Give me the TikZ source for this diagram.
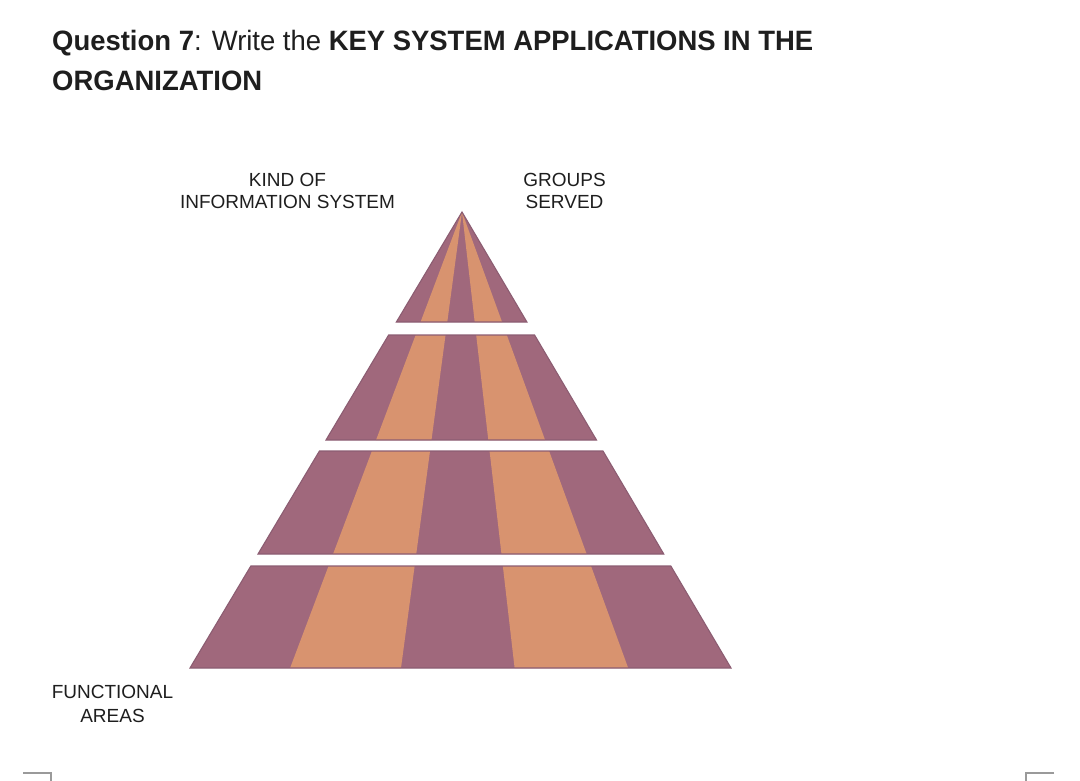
\documentclass[tikz,border=0pt]{standalone}
\usepackage{fontspec}
\setmainfont{Liberation Sans}
\definecolor{mauve}{HTML}{A0687C}
\definecolor{peach}{HTML}{D8936F}
\definecolor{edgec}{HTML}{8C5D72}
\definecolor{ink}{HTML}{1E1E1E}
\definecolor{markc}{HTML}{9A9A9A}
\begin{document}
\begin{tikzpicture}[x=1pt,y=-1pt,
  titletext/.style={inner sep=0pt,anchor=base west,text=ink,font=\fontsize{28}{34}\selectfont},
  label/.style={inner sep=0pt,anchor=base,text=ink,font=\fontsize{19}{22}\selectfont},
  tieredge/.style={draw=edgec,line width=1.1pt,line join=miter},
  cropmark/.style={draw=markc,line width=1.4pt}]
\useasboundingbox (0,0) rectangle (1080,781);
\fill[white] (0,0) rectangle (1080,781);

% title
\node[titletext] (t1) at (52,51) {\resizebox{761pt}{\height}{\textbf{Question 7}: Write the \textbf{KEY SYSTEM APPLICATIONS IN THE}}};
\node[titletext] (t2) at (52,91) {\resizebox{210pt}{\height}{\textbf{ORGANIZATION}}};

% pyramid
\coordinate (A) at (462,212);
\coordinate (BL) at (190,668);
\coordinate (BR) at (731,668);
\coordinate (S1) at (290.1,668);
\coordinate (S2) at (401.0,668);
\coordinate (S3) at (514.6,668);
\coordinate (S4) at (628.2,668);
\foreach \yt/\yb in {212/322,335/440,451/554,566/668}{
  \pgfmathsetmacro{\xlt}{462-0.59649*(\yt-212)}
  \pgfmathsetmacro{\xrt}{462+0.58991*(\yt-212)}
  \pgfmathsetmacro{\xlb}{462-0.59649*(\yb-212)}
  \pgfmathsetmacro{\xrb}{462+0.58991*(\yb-212)}
  \fill[mauve] (\xlt,\yt) -- (\xrt,\yt) -- (\xrb,\yb) -- (\xlb,\yb) -- cycle;
  \begin{scope}
    \clip (\xlt,\yt) -- (\xrt,\yt) -- (\xrb,\yb) -- (\xlb,\yb) -- cycle;
    \fill[peach] (A) -- (S1) -- (S2) -- cycle;
    \fill[peach] (A) -- (S3) -- (S4) -- cycle;
  \end{scope}
  \draw[tieredge] (\xlt,\yt) -- (\xrt,\yt) -- (\xrb,\yb) -- (\xlb,\yb) -- cycle;
}

% labels
\node[label] (k1) at (287.5,187) {KIND OF};
\node[label] (k2) at (287.5,209) {INFORMATION SYSTEM};
\node[label] (g1) at (564.5,186) {GROUPS};
\node[label] (g2) at (564.5,209) {SERVED};
\node[label] (f1) at (112.5,698) {FUNCTIONAL};
\node[label] (f2) at (112.5,722) {AREAS};

% page corner marks
\draw[cropmark] (23,773) -- (51,773) -- (51,781);
\draw[cropmark] (1054,773) -- (1026,773) -- (1026,781);
\end{tikzpicture}
\end{document}
